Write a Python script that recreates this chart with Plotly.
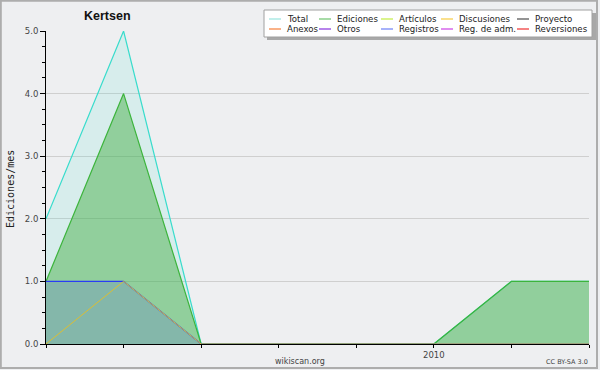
import plotly.graph_objects as go

# ---- data ----
months = ["2009-08", "2009-09", "2009-10", "2009-11", "2009-12", "2010-01", "2010-02", "2010-03"]
tick_labels = ["", "", "", "", "", "2010", "", ""]
total = [2, 5, 0, 0, 0, 0, 1, 1]
ediciones = [1, 4, 0, 0, 0, 0, 1, 1]
registros = [1, 1, 0, 0, 0, 0, 0, 0]
discusiones = [0, 1, 0, 0, 0, 0, 0, 0]

legend_names = ["Total", "Ediciones", "Artículos", "Discusiones", "Proyecto",
                "Anexos", "Otros", "Registros", "Reg. de adm.", "Reversiones"]
legend_colors = ["#9fe6e0", "#78c878", "#c8ee50", "#f8d050", "#5a5a5a",
                 "#f88848", "#9040e0", "#7888f8", "#d050e8", "#f04040"]

W, H = 600, 370
L, R, T, B = 46, 11, 31, 26
PW, PH = W - L - R, H - T - B


def px(x):
    return (x - L) / PW


def py(y):
    return (H - B - y) / PH


x = list(range(len(months)))
BG = "#eeeff1"

fig = go.Figure()
fig.add_trace(go.Scatter(x=x, y=total, mode="lines", name="Total",
                         line=dict(color="#38dccc", width=1.2),
                         fill="tozeroy", fillcolor="rgba(64,224,208,0.13)",
                         showlegend=False, hoverinfo="skip"))
fig.add_trace(go.Scatter(x=x, y=ediciones, mode="lines", name="Ediciones",
                         line=dict(color="#3cb43c", width=1.2),
                         fill="tozeroy", fillcolor="rgba(60,170,60,0.45)",
                         showlegend=False, hoverinfo="skip"))
fig.add_trace(go.Scatter(x=x, y=registros, mode="lines", name="Registros",
                         line=dict(color="#2a3cf5", width=1.1),
                         fill="tozeroy", fillcolor="rgba(80,80,240,0.18)",
                         showlegend=False, hoverinfo="skip"))
fig.add_trace(go.Scatter(x=x, y=discusiones, mode="lines", name="Discusiones",
                         line=dict(color="#dcbe32", width=1),
                         showlegend=False, hoverinfo="skip"))

shapes = []
annotations = []

# outer border
shapes.append(dict(type="rect", xref="paper", yref="paper", layer="above",
                   x0=px(0.8), x1=px(597), y0=py(0.8), y1=py(368),
                   line=dict(color="#adadad", width=2), fillcolor="rgba(0,0,0,0)"))

# legend box with shadow
shapes.append(dict(type="rect", xref="paper", yref="paper", layer="above",
                   x0=px(267), x1=px(596), y0=py(13), y1=py(40),
                   line=dict(width=0), fillcolor="#a8a8a8"))
shapes.append(dict(type="rect", xref="paper", yref="paper", layer="above",
                   x0=px(264), x1=px(592), y0=py(10), y1=py(37),
                   line=dict(color="#a0a0a0", width=1), fillcolor="#ffffff"))

col_x = [285, 335, 397, 457, 533]
row_y = [19, 29]
for i, (name, color) in enumerate(zip(legend_names, legend_colors)):
    cx = col_x[i % 5]
    ry = row_y[i // 5]
    shapes.append(dict(type="line", xref="paper", yref="paper", layer="above",
                       x0=px(cx - 16), x1=px(cx - 4), y0=py(ry), y1=py(ry),
                       line=dict(color=color, width=1.3)))
    annotations.append(dict(text=name, xref="paper", yref="paper",
                            x=px(cx), y=py(ry), xanchor="left", yanchor="middle",
                            showarrow=False,
                            font=dict(family="DejaVu Sans", size=8.6, color="#222")))

# title
annotations.append(dict(text="<b>Kertsen</b>", xref="paper", yref="paper",
                        x=px(107), y=py(16), xanchor="center", yanchor="middle",
                        showarrow=False,
                        font=dict(family="Liberation Sans", size=12.5, color="#111")))
# y axis title
annotations.append(dict(text="Ediciones/mes", xref="paper", yref="paper",
                        x=px(10), y=py(189), xanchor="center", yanchor="middle",
                        textangle=-90, showarrow=False,
                        font=dict(family="DejaVu Sans Mono", size=10, color="#222")))
# footer
annotations.append(dict(text="wikiscan.org", xref="paper", yref="paper",
                        x=px(300), y=py(361), xanchor="center", yanchor="middle",
                        showarrow=False,
                        font=dict(family="DejaVu Sans", size=8, color="#444")))
annotations.append(dict(text="CC BY-SA 3.0", xref="paper", yref="paper",
                        x=px(590), y=py(362), xanchor="right", yanchor="middle",
                        showarrow=False,
                        font=dict(family="DejaVu Sans", size=6.5, color="#444")))

fig.update_layout(
    width=W, height=H,
    margin=dict(l=L, r=R, t=T, b=B, pad=0),
    paper_bgcolor=BG, plot_bgcolor=BG,
    showlegend=False,
    shapes=shapes, annotations=annotations,
    xaxis=dict(range=[0, len(months) - 1], tickmode="array", tickvals=x,
               ticktext=tick_labels, ticks="outside", ticklen=3, tickcolor="#000",
               showline=True, linecolor="#000", linewidth=1,
               showgrid=False, zeroline=False,
               tickfont=dict(family="DejaVu Sans", size=8.5, color="#444")),
    yaxis=dict(range=[0, 5], tickmode="linear", tick0=0, dtick=1,
               tickformat=".1f", ticks="outside", ticklen=5, tickcolor="#000",
               showline=True, linecolor="#000", linewidth=1,
               showgrid=True, gridcolor="#cfcfcf", gridwidth=1, zeroline=False,
               minor=dict(dtick=0.25, ticks="outside", ticklen=3, tickcolor="#000",
                          showgrid=False),
               tickfont=dict(family="DejaVu Sans", size=8.5, color="#444")),
)

fig.write_html("out.html", config={"displayModeBar": False},
               post_script="document.body.style.margin='0';document.body.style.overflow='hidden';")
